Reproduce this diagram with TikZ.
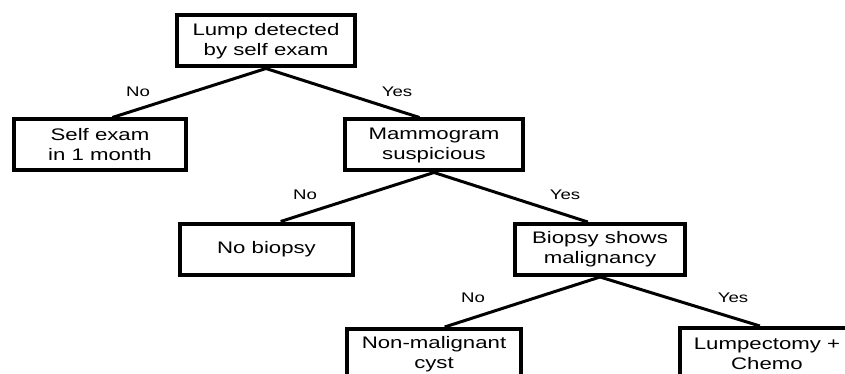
\documentclass[tikz,border=0pt]{standalone}
\usepackage{fontspec}
\setmainfont{Liberation Sans}[FakeStretch=1.33]
\usetikzlibrary{calc}
\tikzset{
  box/.style={draw=black, line width=4pt, fill=white, align=center, inner sep=0pt,
    minimum height=51pt, font=\fontsize{16.7}{20}\selectfont},
  conn/.style={draw=black, line width=3pt},
  lbl/.style={font=\fontsize{14}{16}\selectfont, inner sep=0pt}
}
\begin{document}
\begin{tikzpicture}[x=1pt,y=-1pt]
\useasboundingbox (0,0) rectangle (845,374);
\clip (0,0) rectangle (845,374);
\fill[white] (0,0) rectangle (845,374);
% nodes
\node[box, minimum width=178pt] (lump) at (266,41) {Lump detected\\by self exam};
\node[box, minimum width=172pt] (self) at (100,145) {Self exam\\in 1 month};
\node[box, minimum width=178pt] (mammo) at (434,145) {Mammogram\\suspicious};
\node[box, minimum width=173pt] (nob) at (266.5,249) {No biopsy};
\node[box, minimum width=170pt] (bio) at (600,249.5) {Biopsy shows\\malignancy};
\node[box, minimum width=174pt] (nonm) at (434,354.5) {Non-malignant\\cyst};
\node[box, minimum width=174pt] (lumpc) at (767,353.5) {Lumpectomy +\\Chemo};
% connector endpoints
\coordinate (e1) at ($(self.north west)!0.57!(self.north east)$);
\coordinate (e2) at ($(mammo.north west)!0.42!(mammo.north east)$);
\coordinate (e3) at ($(nob.north west)!0.58!(nob.north east)$);
\coordinate (e4) at ($(bio.north west)!0.43!(bio.north east)$);
\coordinate (e5) at ($(nonm.north west)!0.56!(nonm.north east)$);
\coordinate (e6) at ($(lumpc.north west)!0.46!(lumpc.north east)$);
% connectors
\draw[conn] (lump.south) -- (e1);
\draw[conn] (lump.south) -- (e2);
\draw[conn] (mammo.south) -- (e3);
\draw[conn] (mammo.south) -- (e4);
\draw[conn] (bio.south) -- (e5);
\draw[conn] (bio.south) -- (e6);
% labels
\node[lbl] (l1) at (138,92) {No};
\node[lbl] (l2) at (397,92) {Yes};
\node[lbl] (l3) at (305,195) {No};
\node[lbl] (l4) at (565,195) {Yes};
\node[lbl] (l5) at (473,298) {No};
\node[lbl] (l6) at (733,298) {Yes};
\end{tikzpicture}
\end{document}
